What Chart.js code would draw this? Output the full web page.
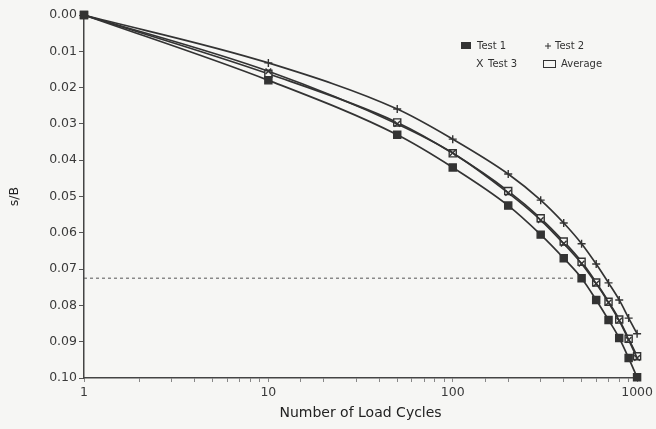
<!DOCTYPE html>
<html><head><meta charset="utf-8">
<script src="https://cdn.jsdelivr.net/npm/chart.js@4/dist/chart.umd.min.js"></script>
<style>html,body{margin:0;padding:0;background:#f6f6f4;}#wrap{width:656px;height:429px;position:relative}</style>
</head><body><div id="wrap"><canvas id="c" width="656" height="429"></canvas></div>
<script>
const cycles = [1, 10, 50, 100, 200, 300, 400, 500, 600, 700, 800, 900, 1000];
const test1 = [0, 0.0180, 0.0330, 0.0420, 0.0525, 0.0605, 0.0670, 0.0725, 0.0785, 0.0840, 0.0890, 0.0945, 0.0998];
const test2 = [0, 0.0132, 0.0259, 0.0342, 0.0438, 0.0510, 0.0573, 0.0630, 0.0686, 0.0738, 0.0785, 0.0835, 0.0878];
const test3 = [0, 0.0155, 0.0300, 0.0380, 0.0490, 0.0565, 0.0630, 0.0685, 0.0740, 0.0792, 0.0842, 0.0895, 0.0945];
const average = [0, 0.0162, 0.0296, 0.0381, 0.0485, 0.0560, 0.0624, 0.0680, 0.0737, 0.0790, 0.0839, 0.0892, 0.0940];
const refCycles = [1, 450];
const refLevel = [0.0725, 0.0725];
const xTickLabels = [1, 10, 100, 1000];
const seriesNames = ['Test 1', 'Test 2', 'Test 3', 'Average'];

const pts = (xs, ys) => xs.map((x, i) => ({x: x, y: ys[i]}));
const FONT = '"DejaVu Sans", Verdana, sans-serif';
const INK = '#333';

const legendPlugin = {
  id: 'customLegend',
  afterDraw(chart) {
    const ctx = chart.ctx;
    ctx.save();
    ctx.font = '10px ' + FONT;
    ctx.fillStyle = INK;
    ctx.strokeStyle = INK;
    ctx.textBaseline = 'middle';
    ctx.textAlign = 'left';
    // row 1
    ctx.fillRect(461, 42, 10, 7);
    ctx.fillText(seriesNames[0], 477, 46);
    ctx.lineWidth = 1;
    ctx.beginPath(); ctx.moveTo(545, 46); ctx.lineTo(551, 46); ctx.moveTo(548, 43); ctx.lineTo(548, 49); ctx.stroke();
    ctx.fillText(seriesNames[1], 555, 46);
    // row 2
    ctx.font = '11px ' + FONT;
    ctx.fillText('X', 476, 64);
    ctx.font = '10px ' + FONT;
    ctx.fillText(seriesNames[2], 488, 64);
    ctx.lineWidth = 1;
    ctx.strokeRect(543.5, 60.5, 12, 7);
    ctx.fillText(seriesNames[3], 561, 64);
    ctx.restore();
  }
};

const lineDs = (label, ys, style, radius, fill) => ({
  label: label,
  data: pts(cycles, ys),
  borderColor: INK,
  borderWidth: 1.7,
  pointStyle: style,
  pointRadius: radius,
  pointBorderWidth: 1.4,
  pointBorderColor: INK,
  pointBackgroundColor: fill,
  cubicInterpolationMode: 'monotone',
  clip: false,
  fill: false
});

new Chart(document.getElementById('c'), {
  type: 'line',
  data: {
    datasets: [
      {
        label: 'ref',
        data: pts(refCycles, refLevel),
        borderColor: '#555',
        borderWidth: 1,
        borderDash: [3, 3],
        pointRadius: 0,
        fill: false
      },
      lineDs(seriesNames[0], test1, 'rect', 5, INK),
      lineDs(seriesNames[1], test2, 'cross', 4, INK),
      lineDs(seriesNames[2], test3, 'crossRot', 4, INK),
      lineDs(seriesNames[3], average, 'rect', 5, '#f6f6f4')
    ]
  },
  options: {
    responsive: false,
    devicePixelRatio: 1,
    animation: false,
    layout: {padding: {top: 15, right: 14, bottom: 0, left: 0}},
    plugins: {legend: {display: false}, tooltip: {enabled: false}},
    scales: {
      x: {
        type: 'logarithmic',
        min: 1, max: 1000,
        afterFit(s) { s.height = 51; },
        grid: {drawOnChartArea: false, drawTicks: true, tickLength: 4, color: '#888'},
        border: {display: true, color: '#444', width: 1.5},
        ticks: {
          autoSkip: false, maxRotation: 0, padding: 3,
          color: '#3a3a3a', font: {family: FONT, size: 12.5},
          callback: (v) => xTickLabels.includes(Number(v)) ? String(v) : ''
        },
        title: {display: true, text: 'Number of Load Cycles', color: '#222', font: {family: FONT, size: 14}, padding: {top: 0, bottom: 7}}
      },
      y: {
        type: 'linear',
        reverse: true,
        min: 0, max: 0.1,
        afterFit(s) { s.width = 84; },
        grid: {drawOnChartArea: false, drawTicks: true, tickLength: 5, color: '#555'},
        border: {display: true, color: '#444', width: 1.5},
        ticks: {
          stepSize: 0.01, padding: 2,
          color: '#3a3a3a', font: {family: FONT, size: 12.5},
          callback: (v) => Number(v).toFixed(2)
        },
        title: {display: true, text: 's/B', color: '#222', font: {family: FONT, size: 12.5}, padding: {top: 7, bottom: 0}}
      }
    }
  },
  plugins: [legendPlugin]
});
</script>
</body></html>
